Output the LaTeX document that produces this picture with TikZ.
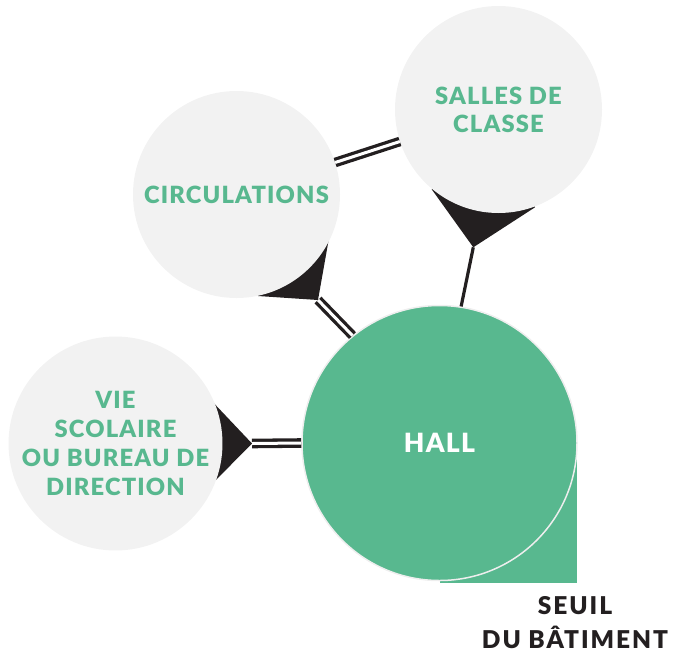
\documentclass[tikz,border=0pt]{standalone}
\usepackage{fontspec}
\newfontfamily\lbl{Lato}[LetterSpace=5, BoldFont={Lato Black}]
\newfontfamily\capfont{Lato}[LetterSpace=8, BoldFont={Lato Black}]
\definecolor{hallgreen}{HTML}{58B88F}
\definecolor{bubble}{HTML}{F2F2F2}
\definecolor{ink}{HTML}{231F20}
\definecolor{rim}{HTML}{EEEEEE}
\tikzset{
  bubblenode/.style={circle, fill=bubble, minimum size=207pt, inner sep=0pt, align=center, text=hallgreen,
    font={\lbl\bfseries\fontsize{23.7}{28.5}\selectfont}},
  hallnode/.style={circle, fill=hallgreen, draw=rim, line width=1.5pt, minimum size=275pt, inner sep=0pt,
    text=white, font={\lbl\bfseries\fontsize{26.5}{30}\selectfont}},
  dbl/.style={draw=ink, line width=3.3pt, double=white, double distance=3pt},
  sgl/.style={draw=ink, line width=3.2pt},
  fin/.style={fill=ink},
  caption/.style={align=center, inner sep=0pt, text=ink, font={\capfont\bfseries\fontsize{24.5}{34.5}\selectfont}}
}
\begin{document}
\begin{tikzpicture}[x=1pt,y=-1pt]
\useasboundingbox (0,0) rectangle (677,654);
% centres
\coordinate (cC) at (236.5,194.5);
\coordinate (cS) at (498.5,109.5);
\coordinate (cV) at (115.5,443.5);
\coordinate (cH) at (439.5,443);
% fin apexes
\coordinate (finC) at (318,300);
\coordinate (finS) at (473.3,247.3);
\coordinate (finV) at (252,443.5);
% fins (bases hidden under the bubbles)
\fill[fin] (cC) -- (329,238) -- (finC) -- (258,296) -- cycle;
\fill[fin] (cS) -- (431.7,189.3) -- (finS) -- (535,207.3) -- cycle;
\fill[fin] (cV) -- (208,397) -- (finV) -- (208,488) -- cycle;
% hall threshold square
\fill[hallgreen] (cH) rectangle (577,583);
% bubbles
\node[bubblenode] (circ) at (cC) {CIRCULATIONS};
\node[bubblenode, font={\lbl\bfseries\fontsize{23.7}{28}\selectfont}] (sall) at (cS) {SALLES DE\\CLASSE};
\node[bubblenode, font={\lbl\bfseries\fontsize{23.7}{29}\selectfont}] (vie) at (cV) {VIE\\SCOLAIRE\\OU BUREAU DE\\DIRECTION};
\node[hallnode] (hall) at (cH) {HALL};
% connectors
\draw[dbl] (circ) -- (sall);
\draw[dbl] (finC) -- (hall.129);
\draw[sgl] (finS) -- (hall.81);
\draw[dbl] (finV) -- (hall.west);
% caption
\node[caption] (seuil) at (575,622.5) {SEUIL\\DU BÂTIMENT};
\end{tikzpicture}
\end{document}
